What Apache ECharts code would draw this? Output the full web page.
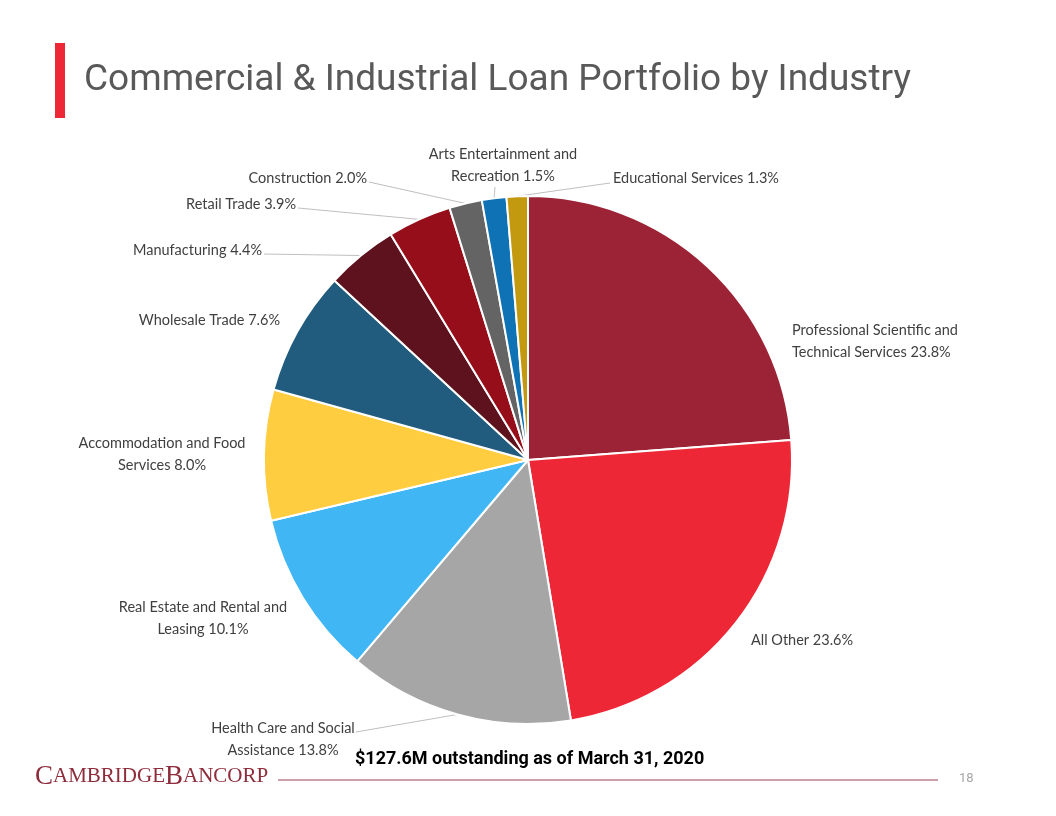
<!DOCTYPE html>
<html>
<head>
<meta charset="utf-8">
<style>html,body{margin:0;padding:0;background:#fff;}#c{width:1056px;height:816px;}</style>
<script src="https://cdn.jsdelivr.net/npm/echarts@6/dist/echarts.min.js"></script>
</head>
<body>
<div id="c"></div>
<script>
var categories = [
  'Professional Scientific and\nTechnical Services',
  'All Other',
  'Health Care and Social\nAssistance',
  'Real Estate and Rental and\nLeasing',
  'Accommodation and Food\nServices',
  'Wholesale Trade',
  'Manufacturing',
  'Retail Trade',
  'Construction',
  'Arts Entertainment and\nRecreation',
  'Educational Services'
];
var values = [23.8, 23.6, 13.8, 10.1, 8.0, 7.6, 4.4, 3.9, 2.0, 1.5, 1.3];
var colors = ['#9B2335', '#EE2737', '#A6A6A6', '#41B6F5', '#FFCD3F', '#215C7E', '#5E121E', '#960E19', '#646464', '#0E72B5', '#C39A0F'];
var titleText = 'Commercial & Industrial Loan Portfolio by Industry';
var subtitleText = '$127.6M outstanding as of March 31, 2020';
var pageNumber = '18';

// label placement (text anchor, alignment, leader-line end) — layout only
var labelPlace = [
  {x: 792, y: 341, align: 'left'},
  {x: 751, y: 640, align: 'left'},
  {x: 283, y: 739, align: 'center', line: [356, 732]},
  {x: 203, y: 618, align: 'center'},
  {x: 162, y: 454, align: 'center'},
  {x: 280, y: 320, align: 'right'},
  {x: 262, y: 250, align: 'right', line: [264, 254]},
  {x: 296, y: 204, align: 'right', line: [298, 208]},
  {x: 367, y: 178, align: 'right', line: [369, 182]},
  {x: 503, y: 165, align: 'center', line: [495, 187]},
  {x: 613, y: 178, align: 'left', line: [610, 183]}
];

var data = categories.map(function (n, i) {
  return {
    name: n,
    value: values[i],
    itemStyle: {color: colors[i]},
    labelLine: {show: !!labelPlace[i].line}
  };
});

var chart = echarts.init(document.getElementById('c'), null, {renderer: 'canvas'});
chart.setOption({
  animation: false,
  backgroundColor: '#ffffff',
  title: {
    text: titleText,
    left: 79, top: 57,
    textStyle: {fontFamily: 'Roboto', fontWeight: 'normal', fontSize: 37, color: '#595959'}
  },
  graphic: [
    {type: 'rect', shape: {x: 55, y: 43, width: 10, height: 75}, style: {fill: '#EE2737'}},
    {type: 'text', left: 355, top: 750, style: {text: subtitleText, font: 'bold 18px Roboto', fill: '#000'}},
    {type: 'text', left: 35, top: 763, style: {
      text: '{b|C}{s|AMBRIDGE}{b|B}{s|ANCORP}',
      fill: '#8E2C3B',
      rich: {
        b: {fontFamily: 'Liberation Serif', fontSize: 27, fill: '#8E2C3B'},
        s: {fontFamily: 'Liberation Serif', fontSize: 21, fill: '#8E2C3B'}
      }
    }},
    {type: 'line', shape: {x1: 278, y1: 780, x2: 938, y2: 780}, style: {stroke: '#9B4050', lineWidth: 1}},
    {type: 'text', left: 959, top: 772, style: {text: pageNumber, font: '13px Roboto', fill: '#A6A6A6'}}
  ],
  series: [{
    type: 'pie',
    center: [528, 460],
    radius: 264,
    startAngle: 90,
    clockwise: true,
    silent: true,
    avoidLabelOverlap: false,
    itemStyle: {borderColor: '#ffffff', borderWidth: 2},
    label: {
      show: true,
      position: 'outside',
      fontFamily: 'Lato',
      fontSize: 14.5,
      lineHeight: 22,
      color: '#404040',
      formatter: function (p) { return p.name + ' ' + p.value.toFixed(1) + '%'; }
    },
    labelLine: {lineStyle: {color: '#BFBFBF', width: 1}, length: 10, length2: 10},
    labelLayout: function (p) {
      var lp = labelPlace[p.dataIndex];
      var out = {x: lp.x, y: lp.y, align: lp.align, verticalAlign: 'middle'};
      if (lp.line && p.labelLinePoints) {
        var s = p.labelLinePoints[0];
        out.labelLinePoints = [s, [(s[0] + lp.line[0]) / 2, (s[1] + lp.line[1]) / 2], lp.line];
      }
      return out;
    },
    data: data
  }]
});
</script>
</body>
</html>
